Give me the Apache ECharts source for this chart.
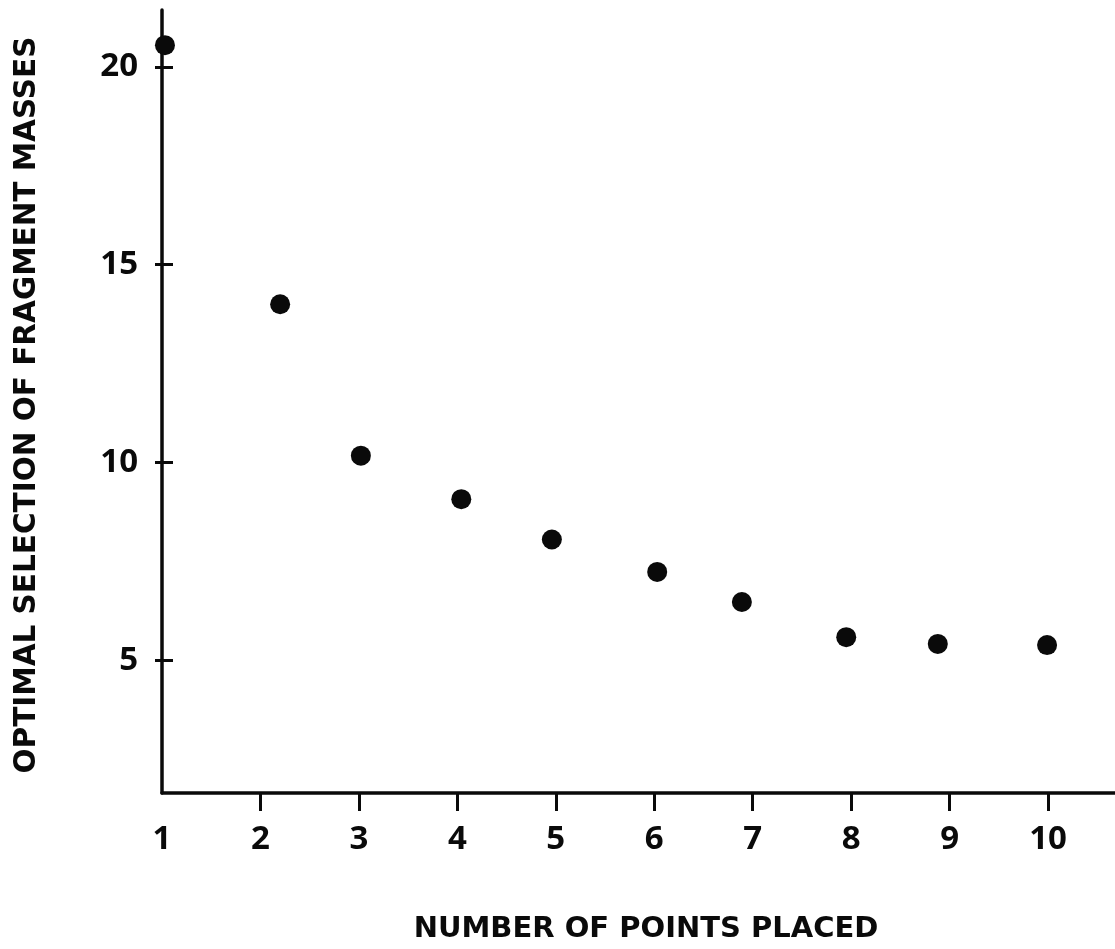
<!DOCTYPE html>
<html>
<head>
<meta charset="utf-8">
<script src="https://cdn.jsdelivr.net/npm/echarts@6/dist/echarts.min.js"></script>
<style>
html,body{margin:0;padding:0;background:#fff;}
#chart{width:1115px;height:949px;}
</style>
</head>
<body>
<div id="chart"></div>
<script>
// Data
const pointsPlaced = [1.03, 2.2, 3.02, 4.04, 4.96, 6.03, 6.89, 7.95, 8.88, 9.99];
const fragmentMasses = [20.55, 14.0, 10.17, 9.07, 8.05, 7.23, 6.47, 5.58, 5.41, 5.38];
const xTickLabels = [1, 2, 3, 4, 5, 6, 7, 8, 9, 10];
const xTickMarks = [2, 3, 4, 5, 6, 7, 8, 9, 10];
const yTickLabels = [5, 10, 15, 20];
const xTitle = 'NUMBER OF POINTS PLACED';
const yTitle = 'OPTIMAL SELECTION OF FRAGMENT MASSES';

const FONT = '"Open Sans", "DejaVu Sans", sans-serif';
const TITLE_FONT = '"DejaVu Sans", "Open Sans", sans-serif';
const INK = '#0a0a0a';

const chart = echarts.init(document.getElementById('chart'), null, {renderer: 'canvas'});
const yMin = 1.64, yMax = 21.44;

chart.setOption({
  animation: false,
  backgroundColor: '#ffffff',
  grid: {left: 162, right: 0, top: 10, bottom: 156, containLabel: false},
  xAxis: {
    type: 'value', min: 1, max: 10.68,
    axisLine: {show: true, onZero: false, lineStyle: {color: INK, width: 3.5}},
    axisTick: {show: true, customValues: xTickMarks, length: 18, inside: false, lineStyle: {color: INK, width: 3}},
    axisLabel: {customValues: xTickLabels, margin: 30, color: INK, fontFamily: FONT, fontWeight: 'bold', fontSize: 33},
    splitLine: {show: false}
  },
  yAxis: [{
    type: 'value', min: yMin, max: yMax,
    axisLine: {show: true, onZero: false, lineStyle: {color: INK, width: 3.5}},
    axisTick: {show: false},
    axisLabel: {customValues: yTickLabels, margin: 24, color: INK, fontFamily: FONT, fontWeight: 'bold', fontSize: 33},
    splitLine: {show: false}
  }, {
    type: 'value', min: yMin, max: yMax, position: 'left', offset: -11,
    axisLine: {show: false},
    axisTick: {show: true, customValues: yTickLabels, length: 18, inside: false, lineStyle: {color: INK, width: 3}},
    axisLabel: {show: false},
    splitLine: {show: false}
  }],
  graphic: [{
    type: 'text',
    x: 646, y: 915,
    style: {text: xTitle, fill: INK, font: 'bold 29px ' + TITLE_FONT, textAlign: 'center', textVerticalAlign: 'top'}
  }, {
    type: 'text',
    rotation: Math.PI / 2,
    x: 12, y: 405,
    style: {text: yTitle, fill: INK, font: 'bold 29.5px ' + TITLE_FONT, textAlign: 'center', textVerticalAlign: 'top'}
  }],
  series: [{
    type: 'scatter',
    data: pointsPlaced.map((x, i) => [x, fragmentMasses[i]]),
    symbol: 'circle', symbolSize: 20,
    itemStyle: {color: INK, opacity: 1},
    silent: true
  }]
});
</script>
</body>
</html>
